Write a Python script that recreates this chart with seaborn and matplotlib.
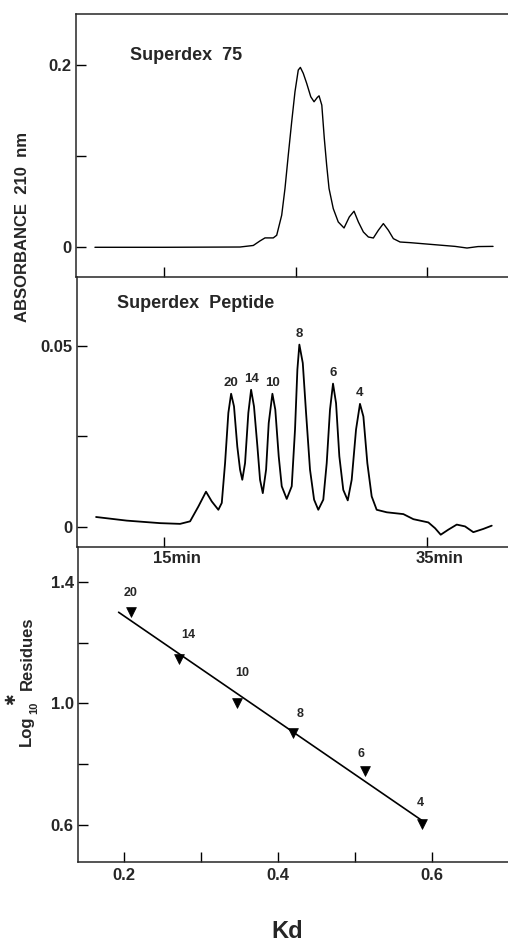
import numpy as np
import matplotlib
matplotlib.use("Agg")
import matplotlib.pyplot as plt
import matplotlib.transforms as mtransforms
import seaborn as sns

# ---------------- data ----------------
# Superdex 75 trace: elution time (min) vs absorbance 210 nm
s75_time = [9.75, 15.0, 20.78, 21.79, 22.30, 22.68, 23.31, 23.57, 23.95, 24.20, 24.45,
            24.71, 24.96, 25.21, 25.37, 25.59, 25.85, 26.16, 26.41, 26.66, 26.79,
            27.00, 27.19, 27.37, 27.55, 27.87, 28.25, 28.69, 29.09, 29.45, 29.78,
            30.16, 30.54, 30.92, 31.30, 31.68, 32.06, 32.44, 32.95, 33.71, 35.46,
            37.13, 38.04, 38.88, 40.02]
s75_abs = [0.0, 0.0, 0.0003, 0.002, 0.007, 0.0103, 0.0103, 0.0132, 0.0352, 0.0645, 0.1011,
           0.1377, 0.1707, 0.1945, 0.1974, 0.1909, 0.1799, 0.1652, 0.1597, 0.1645, 0.1662,
           0.1560, 0.1194, 0.0901, 0.0645, 0.0425, 0.0278, 0.0212, 0.0333, 0.0396, 0.0278,
           0.0168, 0.0113, 0.0102, 0.0187, 0.0260, 0.0187, 0.0095, 0.0058, 0.0051, 0.003,
           0.001, -0.0008, 0.0008, 0.001]

# Superdex Peptide trace
pep_time = [9.83, 12.16, 14.70, 16.22, 16.98, 17.61, 18.19, 18.63, 19.13, 19.39,
            19.64, 19.89, 20.10, 20.32, 20.57, 20.78, 20.95, 21.16, 21.41, 21.62,
            21.84, 22.10, 22.30, 22.51, 22.76, 22.96, 23.24, 23.46, 23.72, 23.95,
            24.33, 24.71, 24.96, 25.14, 25.29, 25.55, 25.80, 26.10, 26.41, 26.73,
            27.11, 27.37, 27.62, 27.85, 28.08, 28.33, 28.63, 28.97, 29.27, 29.60,
            29.90, 30.16, 30.46, 30.79, 31.17, 31.94, 33.20, 33.96, 35.10, 35.61,
            36.04, 36.62, 37.26, 37.89, 38.52, 39.28, 39.92]
pep_abs = [0.0027, 0.0017, 0.0010, 0.0008, 0.0015, 0.0056, 0.0097, 0.0070, 0.0047, 0.0066,
           0.0176, 0.0315, 0.0368, 0.0333, 0.0222, 0.0158, 0.0130, 0.0176, 0.0315, 0.0379,
           0.0333, 0.0222, 0.0130, 0.0093, 0.0158, 0.0287, 0.0368, 0.0324, 0.0195, 0.0112,
           0.0077, 0.0112, 0.0269, 0.0435, 0.0504, 0.0453, 0.0315, 0.0158, 0.0075, 0.0047,
           0.0075, 0.0176, 0.0324, 0.0396, 0.0342, 0.0195, 0.0102, 0.0073, 0.0130, 0.0269,
           0.0340, 0.0305, 0.0176, 0.0084, 0.0047, 0.0040, 0.0035, 0.0021, 0.0012, -0.0004,
           -0.0022, -0.0008, 0.0006, 0.0001, -0.0015, -0.0006, 0.0003]

peak_labels = ["20", "14", "10", "8", "6", "4"]
peak_times = [20.10, 21.62, 23.24, 25.29, 27.85, 29.90]

# Calibration
kd_values = [0.209, 0.272, 0.347, 0.420, 0.513, 0.587]
residues = [20, 14, 10, 8, 6, 4]
fit_kd_range = [0.193, 0.587]

time_ticks_top = [15, 25, 35]
time_ticks_mid = [15, 35]
time_tick_labels = ["15min", "35min"]

# ---------------- style ----------------
sns.set_theme(style="ticks")
plt.rcParams["font.family"] = ["Liberation Sans", "DejaVu Sans"]
plt.rcParams["font.weight"] = "bold"
plt.rcParams["axes.linewidth"] = 1.1

W, H = 508, 942
fig = plt.figure(figsize=(W / 100, H / 100), dpi=100)


def px_axes(l, t, r, b):
    return fig.add_axes([l / W, 1 - b / H, (r - l) / W, (b - t) / H])


def px(x, y):
    return x / W, 1 - y / H


ax1 = px_axes(76, 14, 530, 277)
ax2 = px_axes(77, 277, 530, 547)
ax3 = px_axes(78, 547, 530, 862)

tick_kw = dict(direction="in", length=7.5, width=1.0, color="black",
               labelsize=12, pad=3)

# ---- top panel ----
sns.lineplot(x=s75_time, y=s75_abs, ax=ax1, color="black", lw=1.0, estimator=None)
ax1.set_xlim(8.31, 42.83)
ax1.set_ylim(-0.0326, 0.2560)
ax1.spines["right"].set_visible(False)
ax1.set_xticks(time_ticks_top)
ax1.set_xticklabels([])
ax1.set_yticks([0, 0.1, 0.2])
ax1.set_yticklabels(["0", "", "0.2"])
ax1.tick_params(axis="both", **tick_kw)

# ---- middle panel ----
sns.lineplot(x=pep_time, y=pep_abs, ax=ax2, color="black", lw=1.3, estimator=None)
ax2.set_xlim(8.38, 42.83)
ax2.set_ylim(-0.0056, 0.0691)
ax2.spines["right"].set_visible(False)
ax2.spines["top"].set_visible(False)
ax2.set_xticks(time_ticks_mid)
ax2.set_xticklabels(time_tick_labels)
ax2.set_yticks([0, 0.025, 0.05])
ax2.set_yticklabels(["0", "", "0.05"])
ax2.tick_params(axis="both", **tick_kw)
ax2.tick_params(axis="x", pad=3)
shift = mtransforms.ScaledTranslation(13 / 100, 0, fig.dpi_scale_trans)
for lab in ax2.get_xticklabels():
    lab.set_transform(lab.get_transform() + shift)

pt = np.array(pep_time)
pa = np.array(pep_abs)
for lab, t in zip(peak_labels, peak_times):
    near = np.abs(pt - t) < 0.3
    h = pa[near].max()
    ax2.annotate(lab, xy=(t, h), xytext=(0, 11), textcoords="offset pixels",
                 ha="center", va="center", fontsize=9.5, fontweight="bold")

# ---- bottom panel ----
log_res = np.log10(residues)
coef = np.polyfit(kd_values, log_res, 1)
fx = np.array(fit_kd_range)
sns.lineplot(x=fx, y=np.polyval(coef, fx), ax=ax3, color="black", lw=1.2, estimator=None)
sns.scatterplot(x=kd_values, y=log_res, ax=ax3, marker="v", s=50, color="black",
                edgecolor="black", linewidth=0.5, zorder=5)
label_offsets = [(0, 19), (9, 24), (5, 30), (7, 19), (-4, 17), (-2, 21)]
for lab, xk, yk, off in zip(residues, kd_values, log_res, label_offsets):
    ax3.annotate(str(lab), xy=(xk, yk), xytext=off, textcoords="offset pixels",
                 ha="center", va="center", fontsize=9, fontweight="bold")
ax3.set_xlim(0.1403, 0.727)
ax3.set_ylim(0.4782, 1.5152)
ax3.spines["right"].set_visible(False)
ax3.spines["top"].set_visible(False)
ax3.set_xticks([0.2, 0.3, 0.4, 0.5, 0.6])
ax3.set_xticklabels(["0.2", "", "0.4", "", "0.6"])
ax3.set_yticks([0.6, 0.8, 1.0, 1.2, 1.4])
ax3.set_yticklabels(["0.6", "", "1.0", "", "1.4"])
ax3.tick_params(axis="both", **tick_kw)
ax3.tick_params(axis="x", pad=4)

for ax in (ax1, ax2, ax3):
    ax.set_xlabel("")
    ax.set_ylabel("")
    ax.patch.set_alpha(0)
    for lab in ax.get_xticklabels() + ax.get_yticklabels():
        lab.set_fontweight("bold")

# ---- texts ----
fig.text(*px(130, 59.5), "Superdex  75", ha="left", va="baseline",
         fontsize=13, fontweight="bold")
fig.text(*px(117, 308), "Superdex  Peptide", ha="left", va="baseline",
         fontsize=13, fontweight="bold")
fig.text(*px(22.5, 227), "ABSORBANCE  210  nm", rotation=90, ha="center", va="center",
         fontsize=12, fontweight="bold")
fig.text(*px(26, 731), "Log", rotation=90, ha="center", va="center",
         fontsize=12, fontweight="bold")
fig.text(*px(34.5, 708), "10", rotation=90, ha="center", va="center",
         fontsize=8, fontweight="bold")
fig.text(*px(11, 699), "\u2731", rotation=90, ha="center", va="center",
         fontsize=10, family=["DejaVu Sans"])
fig.text(*px(27, 653), "Residues", rotation=90, ha="center", va="center",
         fontsize=12, fontweight="bold")
fig.text(*px(287, 931), "Kd", ha="center", va="center", fontsize=17, fontweight="bold")

fig.savefig("out.png", dpi=100)
